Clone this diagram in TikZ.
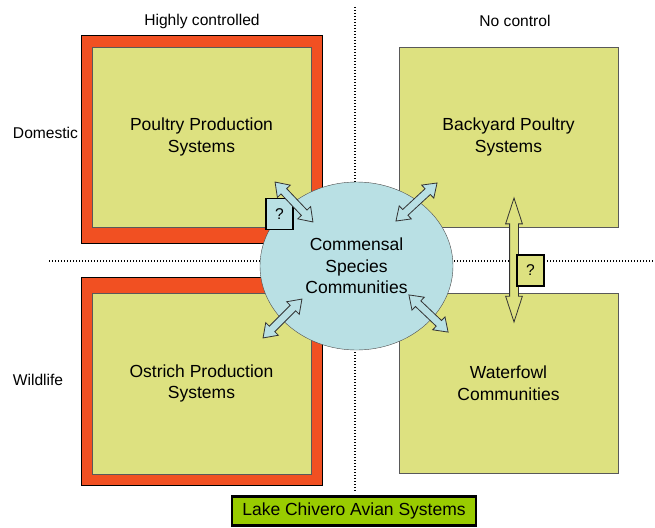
\documentclass[tikz,border=0pt]{standalone}
\usepackage{fontspec}
\setmainfont{Liberation Sans}
\usepackage{tikz}
\usetikzlibrary{calc}
\usetikzlibrary{shapes}
\usetikzlibrary{positioning}

\definecolor{ctlred}{RGB}{241,80,34}
\definecolor{sysgreen}{RGB}{221,225,128}
\definecolor{commblue}{RGB}{185,224,228}
\definecolor{titlegreen}{RGB}{153,204,0}

\begin{document}
\begin{tikzpicture}[x=1pt,y=-1pt]
    \tikzstyle{ctl}=[draw=black, fill=ctlred, line width=.8pt];
    \tikzstyle{sys}=[draw=black!65, fill=sysgreen, line width=.8pt, align=center, font=\fontsize{17.5}{21.5}\selectfont];
    \tikzstyle{lbl}=[font=\fontsize{15.6}{18}\selectfont];
    \tikzstyle{sep}=[line width=1.3pt, dash pattern=on 1.3pt off 1.7pt];
    \tikzstyle{link}=[double arrow, draw=black!80, fill=commblue, line width=.8pt, inner xsep=0pt, inner ysep=3.5pt, minimum width=17pt, double arrow head extend=5pt, double arrow tip angle=70];
    \tikzstyle{ask}=[draw=black, line width=1.8pt, minimum width=27, minimum height=31, inner sep=0, font=\fontsize{15.6}{18}\selectfont];
    \useasboundingbox (0,0) rectangle (655,527);
    % axes
    \coordinate (h0) at (49,261);
    \coordinate (h1) at (655,261);
    \coordinate (v0) at (355,7);
    \coordinate (v1) at (355,492);
    \draw[sep] (h0) -- (h1);
    \draw[sep] (v0) -- (v1);
    % systems
    \node[ctl, minimum width=241, minimum height=208] (pframe) at (201.5,139) {};
    \node[ctl, minimum width=241, minimum height=208] (oframe) at (201.5,381) {};
    \node[sys, minimum width=219, minimum height=180] (poultry) at (201.5,137) {Poultry Production\\Systems};
    \node[sys, minimum width=219, minimum height=181] (ostrich) at (201.5,383.5) {Ostrich Production\\Systems};
    \node[sys, minimum width=219, minimum height=180] (backyard) at (508.5,137) {Backyard Poultry\\Systems};
    \node[sys, minimum width=219, minimum height=180] (waterfowl) at (508.5,383) {Waterfowl\\Communities};
    \node[lbl] (hc) at (202,21) {Highly controlled};
    \node[lbl] (nc) at (515,21) {No control};
    \node[lbl] (dom) at (45.5,133) {Domestic};
    \node[lbl] (wild) at (38,380) {Wildlife};
    \node[draw=black!70, fill=commblue, ellipse, minimum width=193, minimum height=168, inner sep=0, align=center, font=\fontsize{17.5}{21.5}\selectfont] (comm) at (356.5,266) {Commensal\\Species\\Communities};
    \node[ask, fill=commblue] (q1) at (279.5,214) {?};
    % exchanges
    \foreach \n/\x/\y/\len/\ang in {l1/294/202/55/-46.5, l2/416.5/202/56/42.8, l3/282.5/318.5/55/45, l4/428.5/313.5/54/-43.5} {
      \node[link, minimum height=\len, rotate=\ang] (\n) at (\x,\y) {};
    }
    \node[link, fill=sysgreen, minimum height=124, minimum width=16, inner ysep=4pt, double arrow head extend=4pt, double arrow tip angle=36, rotate=90] (l5) at (514,260) {};
    \node[ask, fill=sysgreen] (q2) at (530.5,270.5) {?};
    \node[draw=black, line width=2.5pt, fill=titlegreen, minimum width=244, minimum height=29, font=\fontsize{17.5}{21.5}\selectfont] (title) at (354,511) {Lake Chivero Avian Systems};
  \end{tikzpicture}
\end{document}
